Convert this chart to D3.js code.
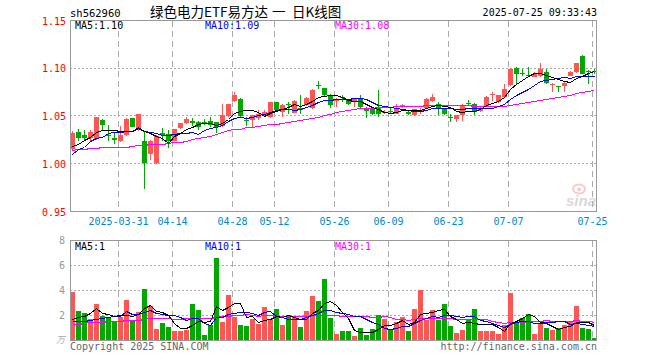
<!DOCTYPE html>
<html><head><meta charset="utf-8">
<script src="https://cdn.jsdelivr.net/npm/d3@7"></script>
<style>body{margin:0;background:#fff}svg{display:block}</style>
</head><body>
<svg id="c" width="660" height="360"></svg>
<script>
// ---------- data ----------
const dates = ["03-19","03-20","03-21","03-24","03-25","03-26","03-27","03-28","03-31",
"04-01","04-02","04-03","04-07","04-08","04-09","04-10","04-11","04-14","04-15","04-16","04-17","04-18","04-21","04-22","04-23","04-24","04-25","04-28","04-29","04-30",
"05-06","05-07","05-08","05-09","05-12","05-13","05-14","05-15","05-16","05-19","05-20","05-21","05-22","05-23","05-26","05-27","05-28","05-29","05-30",
"06-03","06-04","06-05","06-06","06-09","06-10","06-11","06-12","06-13","06-16","06-17","06-18","06-19","06-20","06-23","06-24","06-25","06-26","06-27","06-30",
"07-01","07-02","07-03","07-04","07-07","07-08","07-09","07-10","07-11","07-14","07-15","07-16","07-17","07-18","07-21","07-22","07-23","07-24","07-25"];

const opens = [1.015,1.033,1.030,1.027,1.026,1.046,1.030,1.027,1.024,1.030,1.048,1.035,1.024,1.010,1.001,1.032,1.031,1.024,1.037,1.043,
1.045,1.044,1.044,1.045,1.044,1.040,1.050,1.066,1.068,1.046,1.046,1.048,1.051,1.049,1.065,1.054,1.063,1.053,1.058,1.061,
1.058,1.082,1.079,1.072,1.066,1.070,1.067,1.065,1.068,1.058,1.058,1.058,1.053,1.055,1.052,1.059,1.054,1.051,1.054,1.058,
1.066,1.063,1.058,1.049,1.047,1.051,1.064,1.063,1.055,1.059,1.072,1.065,1.070,1.082,1.100,1.095,1.093,1.091,1.092,1.096,
1.082,1.081,1.081,1.092,1.096,1.113,1.097,1.097];
const closes = [1.032,1.027,1.027,1.033,1.049,1.041,1.029,1.025,1.030,1.047,1.039,1.052,1.001,1.024,1.029,1.030,1.024,1.036,1.043,1.047,
1.043,1.038,1.043,1.041,1.038,1.051,1.063,1.072,1.050,1.045,1.051,1.052,1.054,1.065,1.056,1.062,1.062,1.066,1.056,1.069,
1.077,1.081,1.072,1.062,1.067,1.069,1.063,1.068,1.059,1.055,1.052,1.052,1.054,1.054,1.058,1.061,1.052,1.057,1.056,1.068,
1.070,1.057,1.052,1.048,1.051,1.062,1.063,1.054,1.058,1.070,1.073,1.072,1.078,1.099,1.094,1.094,1.092,1.094,1.099,1.085,
1.084,1.080,1.085,1.096,1.105,1.094,1.096,1.096];
const highs = [1.034,1.036,1.035,1.035,1.049,1.047,1.041,1.033,1.040,1.048,1.048,1.052,1.033,1.025,1.030,1.037,1.035,1.036,1.043,1.049,
1.048,1.045,1.047,1.049,1.044,1.063,1.063,1.075,1.069,1.049,1.051,1.056,1.056,1.065,1.065,1.063,1.065,1.067,1.072,1.070,
1.078,1.087,1.079,1.073,1.069,1.072,1.068,1.069,1.072,1.059,1.058,1.077,1.056,1.058,1.063,1.063,1.056,1.057,1.058,1.069,
1.073,1.065,1.058,1.052,1.051,1.063,1.067,1.064,1.059,1.071,1.075,1.072,1.084,1.100,1.101,1.099,1.101,1.096,1.105,1.099,
1.085,1.081,1.086,1.097,1.106,1.114,1.098,1.099];
const lows = [1.014,1.024,1.024,1.024,1.025,1.035,1.024,1.021,1.023,1.029,1.038,1.034,0.974,1.004,1.000,1.024,1.017,1.024,1.036,1.042,
1.040,1.035,1.041,1.038,1.032,1.038,1.049,1.065,1.049,1.040,1.038,1.046,1.049,1.048,1.055,1.049,1.052,1.053,1.052,1.060,
1.057,1.078,1.070,1.058,1.059,1.065,1.062,1.059,1.058,1.048,1.051,1.049,1.052,1.052,1.052,1.058,1.051,1.050,1.052,1.057,
1.065,1.051,1.051,1.044,1.044,1.045,1.061,1.051,1.054,1.059,1.066,1.064,1.069,1.081,1.084,1.092,1.091,1.091,1.091,1.084,
1.075,1.075,1.075,1.092,1.095,1.094,1.084,1.094];
// volume (万)
const volumes = [3.87,2.35,2.16,1.65,2.88,1.95,1.76,1.47,1.81,3.20,1.55,2.27,4.08,2.72,0.88,1.36,1.04,0.72,0.72,0.80,
2.88,2.40,0.40,1.20,6.56,1.44,3.60,1.84,1.20,1.12,1.68,1.28,2.64,1.68,2.48,1.20,2.00,1.87,1.04,2.30,
3.52,3.12,4.90,1.80,0.48,0.72,0.72,0.32,0.96,0.40,0.88,2.00,1.68,0.88,1.44,1.84,0.72,2.48,4.00,1.60,
2.40,1.60,2.90,1.10,0.60,0.80,1.70,2.50,0.70,0.70,0.70,0.50,1.20,3.80,1.45,1.80,2.10,0.50,1.25,1.00,
0.80,1.00,1.20,1.50,2.70,0.95,0.90,0.15];

// moving-average values before enough history exists
const ma5Head  = [1.019,1.021,1.025,1.028];
const ma10Head = [1.010,1.015,1.018,1.024,1.027,1.028,1.032,1.033,1.033];
const ma30Head = [1.014,1.015,1.015,1.016,1.017,1.018,1.018,1.018,1.018,1.018,1.019,1.020,1.020,1.021,1.021,
                  1.021,1.022,1.023,1.023,1.024,1.026,1.027,1.028,1.029,1.031,1.033,1.035,1.036,1.036];
const vma5Head  = [1.65,1.85,1.95,2.20];
const vma10Head = [1.52,1.53,1.54,1.60,1.70,1.78,1.85,1.90,1.95];
const vma30Head = [1.25,1.31,1.36,1.41,1.44,1.47,1.49,1.52,1.55,1.57,1.60,1.63,1.68,1.73,1.73,
                   1.73,1.73,1.71,1.71,1.73,1.73,1.76,1.76,1.79,1.87,1.89,1.95,1.97,1.97];

const priceTicks = [0.95,1.00,1.05,1.10,1.15];
const volTicks = [2,4,6,8];
const dateTicks = ["03-31","04-14","04-28","05-12","05-26","06-09","06-23","07-07","07-25"];
const dateTickLabels = ["2025-03-31","04-14","04-28","05-12","05-26","06-09","06-23","07-07","07-25"];
const priceLegend = ["MA5:1.10","MA10:1.09","MA30:1.08"];
const volLegend = ["MA5:1","MA10:1","MA30:1"];
const titleParts = ["绿色电力ETF易方达", "一", "日K线图"];

// ---------- drawing ----------
const svg = d3.select("#c");
const MONO = "'DejaVu Sans Mono', 'Liberation Mono', monospace";
const CJK = "'Noto Sans CJK SC', sans-serif";
const RED = "#ff5555", GREEN = "#00a800", GRID = "#aaaaaa", FRAME = "#999999";
const L = 70, R = 597;
const x = d3.scaleBand().domain(dates).range([L, L + 6 * dates.length]).padding(0);
const y = d3.scaleLinear().domain([0.95, 1.15]).range([211.5, 20.5]);
const yv = d3.scaleLinear().domain([0, 8]).range([340, 240]);

function movAvg(vals, n, head) {
  return vals.map((v, i) => i < n - 1 ? head[i] : d3.mean(vals.slice(i - n + 1, i + 1)));
}
const ma5 = movAvg(closes, 5, ma5Head), ma10 = movAvg(closes, 10, ma10Head), ma30 = movAvg(closes, 30, ma30Head);
const vma5 = movAvg(volumes, 5, vma5Head), vma10 = movAvg(volumes, 10, vma10Head), vma30 = movAvg(volumes, 30, vma30Head);
const up = dates.map((d, i) => closes[i] >= opens[i]);

// header
svg.append("text").attr("x", 70).attr("y", 17).attr("font-family", MONO).attr("font-size", 10.5)
  .attr("fill", "#000").text("sh562960");
const titleX = [150, 272, 292];
titleParts.forEach((t, i) => svg.append("text").attr("x", titleX[i]).attr("y", 17)
  .attr("font-family", CJK).attr("font-size", 13.5).attr("fill", "#000").text(t));
svg.append("text").attr("x", 597).attr("y", 16).attr("text-anchor", "end").attr("font-family", MONO)
  .attr("font-size", 10).attr("fill", "#000").text("2025-07-25 09:33:43");

const crisp = v => Math.floor(v) + 0.5;

function panel(yTop, yBot, hTicks, yScale) {
  const g = svg.append("g").attr("shape-rendering", "crispEdges");
  g.selectAll("line.v").data(dateTicks).enter().append("line")
    .attr("x1", d => x(d) + 0.5).attr("x2", d => x(d) + 0.5)
    .attr("y1", yTop).attr("y2", yBot)
    .attr("stroke", GRID).attr("stroke-dasharray", "6,4");
  g.selectAll("line.h").data(hTicks).enter().append("line")
    .attr("x1", L).attr("x2", R).attr("y1", d => crisp(yScale(d))).attr("y2", d => crisp(yScale(d)))
    .attr("stroke", GRID).attr("stroke-dasharray", "2,2");
  return g;
}
panel(21, 211, [1.00, 1.05, 1.10], y);
panel(241, 340, [2, 4, 6], yv);

// watermark
const wm = svg.append("g").attr("opacity", 0.55);
wm.append("ellipse").attr("cx", 579).attr("cy", 189).attr("rx", 6).attr("ry", 4.5)
  .attr("fill", "none").attr("stroke", "#f5a0a0").attr("stroke-width", 2);
wm.append("circle").attr("cx", 579).attr("cy", 189.5).attr("r", 2).attr("fill", "#f5a0a0");
wm.append("text").attr("x", 566).attr("y", 206).attr("font-family", "'Liberation Sans', Arial, sans-serif")
  .attr("font-size", 15).attr("font-weight", "bold").attr("font-style", "italic").attr("fill", "#bbbbbb").text("sina");

// candles
const cg = svg.append("g").attr("shape-rendering", "crispEdges");
cg.selectAll("rect.w").data(dates).enter().append("rect")
  .attr("x", d => x(d) + 2).attr("width", 1)
  .attr("y", (d, i) => Math.round(y(highs[i])))
  .attr("height", (d, i) => Math.max(1, Math.round(y(lows[i])) - Math.round(y(highs[i]))))
  .attr("fill", (d, i) => up[i] ? RED : GREEN);
cg.selectAll("rect.b").data(dates).enter().append("rect")
  .attr("x", d => x(d)).attr("width", 5)
  .attr("y", (d, i) => Math.round(y(Math.max(opens[i], closes[i]))))
  .attr("height", (d, i) => Math.max(1, Math.round(y(Math.min(opens[i], closes[i]))) - Math.round(y(Math.max(opens[i], closes[i])))))
  .attr("fill", (d, i) => up[i] ? RED : GREEN);

// volume bars
cg.selectAll("rect.v").data(dates).enter().append("rect")
  .attr("x", d => x(d)).attr("width", 5)
  .attr("y", (d, i) => Math.round(yv(volumes[i])))
  .attr("height", (d, i) => 340 - Math.round(yv(volumes[i])))
  .attr("fill", (d, i) => up[i] ? RED : GREEN);

// MA lines
function maLine(vals, scale, color) {
  const line = d3.line().x((d, i) => x(dates[i]) + 2.5).y(d => Math.round(scale(d)) + 0.5);
  svg.append("path").datum(vals).attr("d", line).attr("fill", "none")
    .attr("stroke", color).attr("stroke-width", 1).attr("shape-rendering", "crispEdges");
}
maLine(ma30, y, "#ff00ff"); maLine(ma10, y, "#0000ff"); maLine(ma5, y, "#000000");
maLine(vma30, yv, "#ff00ff"); maLine(vma10, yv, "#0000ff"); maLine(vma5, yv, "#000000");

// frames
const fg = svg.append("g").attr("shape-rendering", "crispEdges").attr("fill", "none").attr("stroke", FRAME);
fg.append("rect").attr("x", 70.5).attr("y", 20.5).attr("width", 526).attr("height", 191);
fg.append("rect").attr("x", 70.5).attr("y", 240.5).attr("width", 526).attr("height", 100);

// legends
const legX = [75, 205, 335], legC = ["#000000", "#0000ff", "#ff00ff"];
priceLegend.forEach((t, i) => svg.append("text").attr("x", legX[i]).attr("y", 29)
  .attr("font-family", MONO).attr("font-size", 10).attr("fill", legC[i]).text(t));
volLegend.forEach((t, i) => svg.append("text").attr("x", legX[i]).attr("y", 250)
  .attr("font-family", MONO).attr("font-size", 10).attr("fill", legC[i]).text(t));

// price axis labels
svg.selectAll("text.p").data(priceTicks).enter().append("text")
  .attr("x", 66).attr("y", d => y(d) + 4).attr("text-anchor", "end")
  .attr("font-family", MONO).attr("font-size", 10).attr("fill", "#ff0000").text(d => d.toFixed(2));
// volume axis labels
svg.selectAll("text.vl").data(volTicks).enter().append("text")
  .attr("x", 65).attr("y", d => yv(d) + 4).attr("text-anchor", "end")
  .attr("font-family", MONO).attr("font-size", 10).attr("fill", "#999999").text(d => d);
svg.append("text").attr("x", 65).attr("y", 343).attr("text-anchor", "end")
  .attr("font-family", CJK).attr("font-size", 9).attr("font-style", "italic")
  .attr("fill", "#aaaaaa").text("万");
// date labels
svg.selectAll("text.d").data(dateTicks).enter().append("text")
  .attr("x", d => x(d) + 0.5).attr("y", 225).attr("text-anchor", "middle")
  .attr("font-family", MONO).attr("font-size", 10).attr("fill", "#0088cc")
  .text((d, i) => dateTickLabels[i]);

// footer
svg.append("text").attr("x", 70).attr("y", 350).attr("font-family", MONO).attr("font-size", 10)
  .attr("fill", "#666666").text("Copyright 2025 SINA.COM");
svg.append("text").attr("x", 597).attr("y", 350).attr("text-anchor", "end").attr("font-family", MONO)
  .attr("font-size", 10).attr("fill", "#666666").text("http://finance.sina.com.cn");
</script>
</body></html>
